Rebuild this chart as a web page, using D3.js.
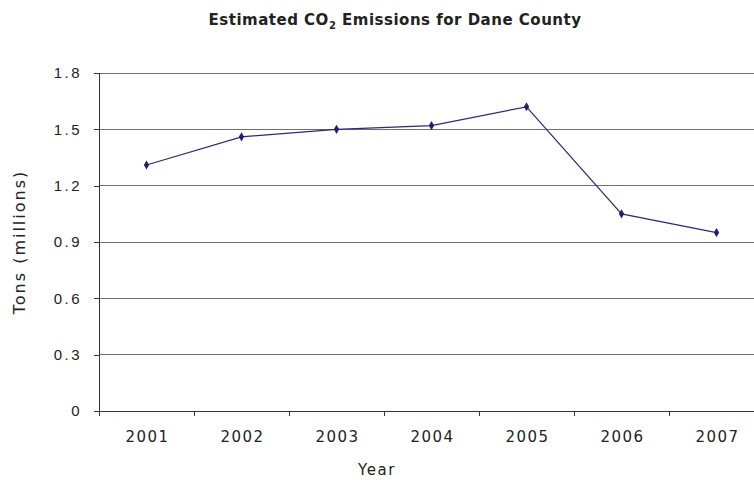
<!DOCTYPE html>
<html>
<head>
<meta charset="utf-8">
<script src="https://cdnjs.cloudflare.com/ajax/libs/d3/7.8.5/d3.min.js"></script>
<style>
  body { margin: 0; background: #fff; }
  svg { font-family: "DejaVu Sans", sans-serif; }
</style>
</head>
<body>
<div id="chart"></div>
<script>
const years = ["2001", "2002", "2003", "2004", "2005", "2006", "2007"];
const emissions = [1.31, 1.46, 1.50, 1.52, 1.62, 1.05, 0.95];
const yTicks = [0, 0.3, 0.6, 0.9, 1.2, 1.5, 1.8];

const W = 754, H = 483;
const margin = {top: 73, left: 99, bottom: 72};
const svg = d3.select("#chart").append("svg")
  .attr("width", W).attr("height", H);

// plot runs past the right edge of the picture, as in the original
const x = d3.scaleBand().domain(years).range([margin.left, margin.left + 7 * 95]);
const y = d3.scaleLinear().domain([0, 1.8]).range([H - margin.bottom, margin.top]);

// gridlines
svg.append("g").selectAll("line")
  .data(yTicks.slice(1))
  .enter().append("line")
    .attr("x1", margin.left).attr("x2", W)
    .attr("y1", d => y(d)).attr("y2", d => y(d))
    .attr("stroke", "#6e6e6e").attr("stroke-width", 1)
    .attr("shape-rendering", "crispEdges");

// y axis
const yAxis = svg.append("g")
  .attr("transform", "translate(" + margin.left + ",0)")
  .call(d3.axisLeft(y).tickValues(yTicks).tickSize(5).tickPadding(12)
    .tickFormat(d => d === 0 ? "0" : d3.format(".1f")(d)));
yAxis.select(".domain").attr("stroke", "#333").attr("shape-rendering", "crispEdges");
yAxis.selectAll(".tick line").attr("stroke", "#333").attr("shape-rendering", "crispEdges");
yAxis.selectAll("text").style("font-size", "15px").style("letter-spacing", "2.5px").attr("fill", "#222");

// x axis with ticks between categories
const xAxis = svg.append("g")
  .attr("transform", "translate(0," + y(0) + ")");
xAxis.append("line")
  .attr("x1", margin.left).attr("x2", W)
  .attr("stroke", "#333").attr("shape-rendering", "crispEdges");
xAxis.selectAll(".tk")
  .data(years)
  .enter().append("line")
    .attr("class", "tk")
    .attr("x1", d => x(d)).attr("x2", d => x(d))
    .attr("y1", 0).attr("y2", 5)
    .attr("stroke", "#333").attr("shape-rendering", "crispEdges");
xAxis.selectAll("text")
  .data(years)
  .enter().append("text")
    .attr("x", d => x(d) + x.bandwidth() / 2 + 1)
    .attr("y", 31)
    .attr("text-anchor", "middle")
    .style("font-size", "15px").style("letter-spacing", "1.5px")
    .attr("fill", "#222")
    .text(d => d);

// line
const line = d3.line()
  .x((d, i) => x(years[i]) + x.bandwidth() / 2)
  .y(d => y(d));
svg.append("path")
  .datum(emissions)
  .attr("d", line)
  .attr("fill", "none")
  .attr("stroke", "#2a2a7c")
  .attr("stroke-width", 1.2);

svg.selectAll(".pt")
  .data(emissions)
  .enter().append("path")
    .attr("class", "pt")
    .attr("d", d3.symbol().type(d3.symbolDiamond).size(24))
    .attr("transform", (d, i) => "translate(" + (x(years[i]) + x.bandwidth() / 2) + "," + y(d) + ")")
    .attr("fill", "#1f1f6e");

// title
const title = svg.append("text")
  .attr("x", 395).attr("y", 25)
  .attr("text-anchor", "middle")
  .style("font-size", "15px").style("font-weight", "bold")
  .style("letter-spacing", "0.5px")
  .attr("fill", "#222");
title.append("tspan").text("Estimated CO");
title.append("tspan").attr("dy", 4).style("font-size", "10px").text("2");
title.append("tspan").attr("dy", -4).text(" Emissions for Dane County");

// axis titles
svg.append("text")
  .attr("x", 377).attr("y", 475)
  .attr("text-anchor", "middle")
  .style("font-size", "15px").style("letter-spacing", "1.5px").attr("fill", "#222")
  .text("Year");

svg.append("text")
  .attr("transform", "translate(25," + ((y(0) + y(1.8)) / 2) + ") rotate(-90)")
  .attr("text-anchor", "middle")
  .style("font-size", "16px").style("letter-spacing", "2px").attr("fill", "#222")
  .text("Tons (millions)");
</script>
</body>
</html>
